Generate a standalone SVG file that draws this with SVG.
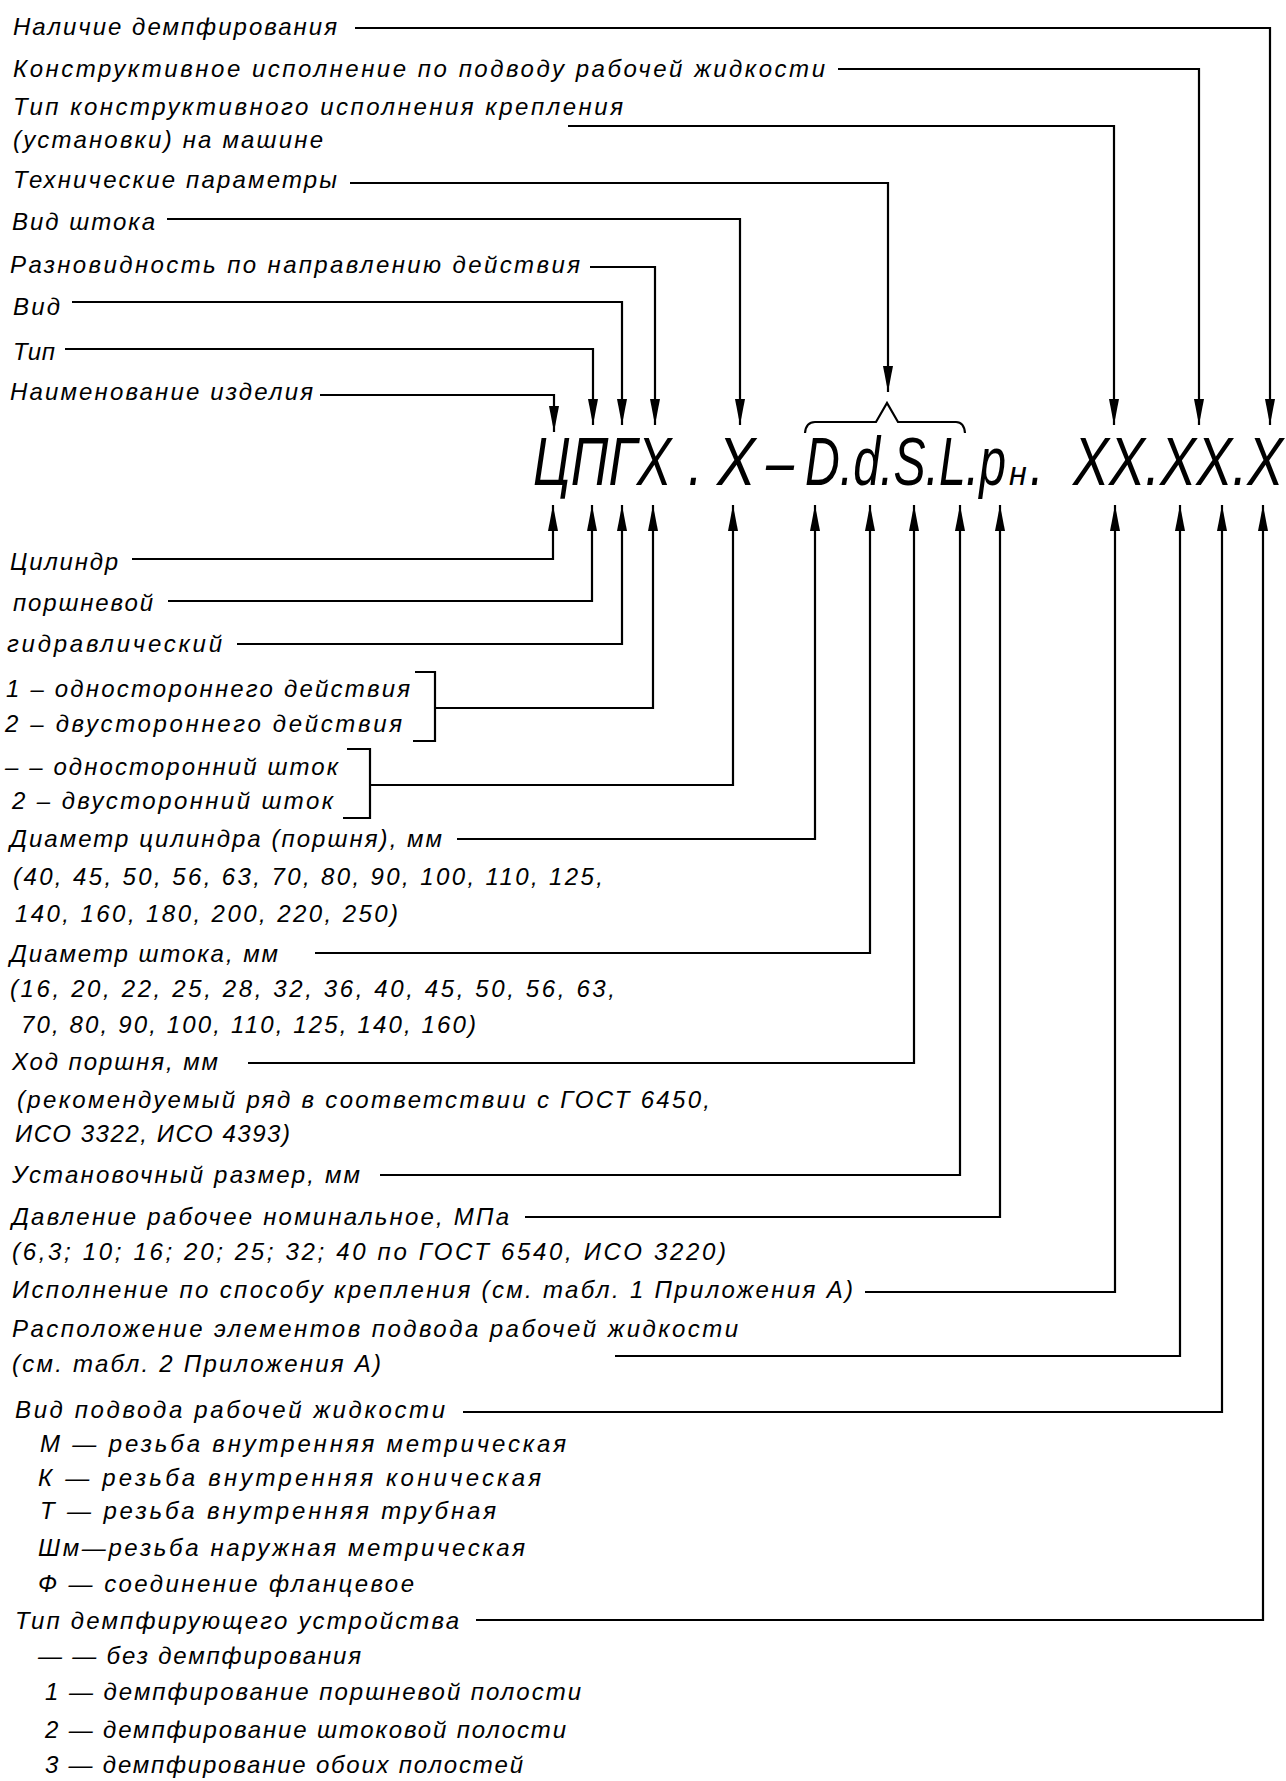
<svg xmlns="http://www.w3.org/2000/svg" width="1286" height="1781" viewBox="0 0 1286 1781">
<style>
text{font-family:"Liberation Sans","DejaVu Sans",sans-serif;font-style:italic;fill:#000}
.l{font-size:24px}
.big{font-size:68px}
.sub{font-size:34px}
.c{fill:none;stroke:#000;stroke-width:2.2;marker-end:url(#ah)}
.br{fill:none;stroke:#000;stroke-width:2.2}
</style>
<defs>
<marker id="ah" markerUnits="userSpaceOnUse" markerWidth="26" markerHeight="10" refX="26" refY="5" orient="auto">
<path d="M0,0 L26,5 L0,10 z" fill="#000"/>
</marker>
</defs>
<rect width="1286" height="1781" fill="#fff"/>

<g id="code">
<text class="big" transform="translate(533,485) scale(0.765,1)">ЦПГХ</text>
<text class="big" transform="translate(688,485) scale(0.77,1)">.</text>
<text class="big" transform="translate(717,485) scale(0.85,1)">Х</text>
<text class="big" transform="translate(766,485) scale(0.74,1)">–</text>
<text class="big" transform="translate(805,485) scale(0.709,1)">D.d.S.L.p</text>
<text class="sub" transform="translate(1009,485) scale(0.95,1)">н</text>
<text class="big" transform="translate(1030,485) scale(0.709,1)">.</text>
<text class="big" transform="translate(1073,485) scale(0.795,1)">ХХ.ХХ.Х</text>
<path class="br" d="M805,433 Q806,422 815,422 H876 L887,403 L898,422 H956 Q964,422 965,433"/>
</g>

<g id="n-nalichie"><text class="l" x="13" y="35" textLength="324" lengthAdjust="spacing">Наличие демпфирования</text></g>
<g id="n-konstr"><text class="l" x="13" y="77" textLength="812" lengthAdjust="spacing">Конструктивное исполнение по подводу рабочей жидкости</text></g>
<g id="n-tip-kreplen">
<text class="l" x="13" y="115" textLength="610" lengthAdjust="spacing">Тип конструктивного исполнения крепления</text>
<text class="l" x="13" y="148" textLength="310" lengthAdjust="spacing">(установки) на машине</text>
</g>
<g id="n-tehn"><text class="l" x="13" y="188" textLength="324" lengthAdjust="spacing">Технические параметры</text></g>
<g id="n-vid-shtoka"><text class="l" x="12" y="230" textLength="143" lengthAdjust="spacing">Вид штока</text></g>
<g id="n-raznovid"><text class="l" x="10" y="273" textLength="570" lengthAdjust="spacing">Разновидность по направлению действия</text></g>
<g id="n-vid"><text class="l" x="13" y="315" textLength="47" lengthAdjust="spacing">Вид</text></g>
<g id="n-tip"><text class="l" x="13" y="360" textLength="42" lengthAdjust="spacing">Тип</text></g>
<g id="n-naimen"><text class="l" x="10" y="400" textLength="303" lengthAdjust="spacing">Наименование изделия</text></g>

<g id="n-cilindr"><text class="l" x="10" y="570" textLength="108" lengthAdjust="spacing">Цилиндр</text></g>
<g id="n-porshn"><text class="l" x="13" y="611" textLength="140" lengthAdjust="spacing">поршневой</text></g>
<g id="n-gidr"><text class="l" x="7" y="652" textLength="215" lengthAdjust="spacing">гидравлический</text></g>
<g id="n-deistv">
<text class="l" x="6" y="697" textLength="404" lengthAdjust="spacing">1 – одностороннего действия</text>
<text class="l" x="5" y="732" textLength="397" lengthAdjust="spacing">2 – двустороннего действия</text>
<path class="br" d="M415,672 H435 V741 H413"/>
</g>
<g id="n-shtok">
<text class="l" x="5" y="775" textLength="333" lengthAdjust="spacing">– – односторонний шток</text>
<text class="l" x="12" y="809" textLength="321" lengthAdjust="spacing">2 – двусторонний шток</text>
<path class="br" d="M347,749 H370 V818 H343"/>
</g>
<g id="n-diam-cil">
<text class="l" x="10" y="847" textLength="432" lengthAdjust="spacing">Диаметр цилиндра (поршня), мм</text>
<text class="l" x="13" y="885" textLength="590" lengthAdjust="spacing">(40, 45, 50, 56, 63, 70, 80, 90, 100, 110, 125,</text>
<text class="l" x="15" y="922" textLength="383" lengthAdjust="spacing">140, 160, 180, 200, 220, 250)</text>
</g>
<g id="n-diam-sht">
<text class="l" x="10" y="962" textLength="268" lengthAdjust="spacing">Диаметр штока, мм</text>
<text class="l" x="10" y="997" textLength="605" lengthAdjust="spacing">(16, 20, 22, 25, 28, 32, 36, 40, 45, 50, 56, 63,</text>
<text class="l" x="21" y="1033" textLength="455" lengthAdjust="spacing">70, 80, 90, 100, 110, 125, 140, 160)</text>
</g>
<g id="n-hod">
<text class="l" x="12" y="1070" textLength="206" lengthAdjust="spacing">Ход поршня, мм</text>
<text class="l" x="17" y="1108" textLength="693" lengthAdjust="spacing">(рекомендуемый ряд в соответствии с ГОСТ 6450,</text>
<text class="l" x="15" y="1142" textLength="275" lengthAdjust="spacing">ИСО 3322, ИСО 4393)</text>
</g>
<g id="n-ustan"><text class="l" x="12" y="1183" textLength="348" lengthAdjust="spacing">Установочный размер, мм</text></g>
<g id="n-davl">
<text class="l" x="12" y="1225" textLength="497" lengthAdjust="spacing">Давление рабочее номинальное, МПа</text>
<text class="l" x="12" y="1260" textLength="714" lengthAdjust="spacing">(6,3; 10; 16; 20; 25; 32; 40 по ГОСТ 6540, ИСО 3220)</text>
</g>
<g id="n-ispoln"><text class="l" x="12" y="1298" textLength="841" lengthAdjust="spacing">Исполнение по способу крепления (см. табл. 1 Приложения А)</text></g>
<g id="n-raspol">
<text class="l" x="12" y="1337" textLength="726" lengthAdjust="spacing">Расположение элементов подвода рабочей жидкости</text>
<text class="l" x="12" y="1372" textLength="369" lengthAdjust="spacing">(см. табл. 2 Приложения А)</text>
</g>
<g id="n-vid-podv">
<text class="l" x="15" y="1418" textLength="430" lengthAdjust="spacing">Вид подвода рабочей жидкости</text>
<text class="l" x="40" y="1452" textLength="526" lengthAdjust="spacing">М — резьба внутренняя метрическая</text>
<text class="l" x="38" y="1486" textLength="503" lengthAdjust="spacing">К — резьба внутренняя коническая</text>
<text class="l" x="40" y="1519" textLength="456" lengthAdjust="spacing">Т — резьба внутренняя трубная</text>
<text class="l" x="38" y="1556" textLength="487" lengthAdjust="spacing">Шм—резьба наружная метрическая</text>
<text class="l" x="38" y="1592" textLength="376" lengthAdjust="spacing">Ф — соединение фланцевое</text>
</g>
<g id="n-tip-dempf">
<text class="l" x="15" y="1629" textLength="444" lengthAdjust="spacing">Тип демпфирующего устройства</text>
<text class="l" x="38" y="1664" textLength="323" lengthAdjust="spacing">— — без демпфирования</text>
<text class="l" x="45" y="1700" textLength="536" lengthAdjust="spacing">1 — демпфирование поршневой полости</text>
<text class="l" x="45" y="1738" textLength="521" lengthAdjust="spacing">2 — демпфирование штоковой полости</text>
<text class="l" x="45" y="1773" textLength="478" lengthAdjust="spacing">3 — демпфирование обоих полостей</text>
</g>

<g id="connectors">
<path class="c" d="M355,28 H1270 V425"/>
<path class="c" d="M838,69 H1199 V425"/>
<path class="c" d="M568,126 H1114 V425"/>
<path class="c" d="M350,183 H888 V392"/>
<path class="c" d="M167,219 H740 V425"/>
<path class="c" d="M590,267 H655 V425"/>
<path class="c" d="M72,302 H622 V425"/>
<path class="c" d="M65,349 H593 V425"/>
<path class="c" d="M320,395 H554 V432"/>

<path class="c" d="M132,559 H553 V505"/>
<path class="c" d="M168,601 H592 V505"/>
<path class="c" d="M237,644 H622 V505"/>
<path class="c" d="M435,708 H653 V505"/>
<path class="c" d="M370,785 H733 V505"/>
<path class="c" d="M457,839 H815 V505"/>
<path class="c" d="M315,953 H870 V505"/>
<path class="c" d="M248,1063 H914 V505"/>
<path class="c" d="M380,1175 H960 V505"/>
<path class="c" d="M525,1217 H1000 V505"/>
<path class="c" d="M865,1292 H1115 V505"/>
<path class="c" d="M615,1356 H1180 V505"/>
<path class="c" d="M463,1412 H1222 V505"/>
<path class="c" d="M476,1620 H1263 V505"/>
</g>
</svg>
